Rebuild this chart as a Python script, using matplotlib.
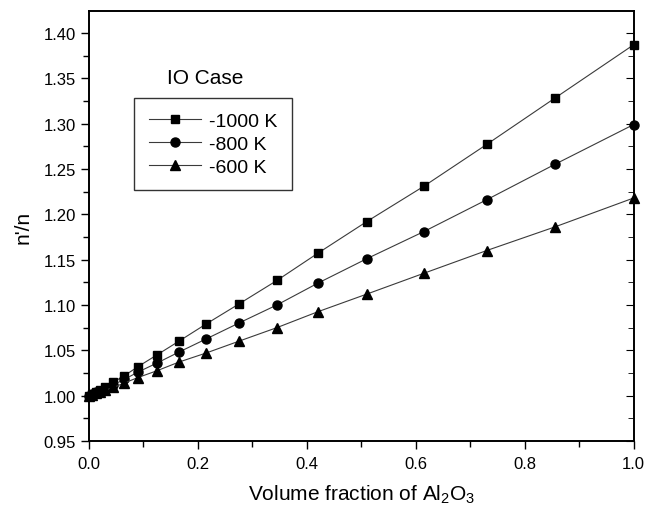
import matplotlib
matplotlib.use("Agg")
import matplotlib.pyplot as plt
from matplotlib.ticker import MultipleLocator, FormatStrFormatter

plt.rcParams['font.family'] = ['Liberation Sans', 'DejaVu Sans']
plt.rcParams['mathtext.default'] = 'regular'

x = [0, 0.005, 0.012, 0.02, 0.03, 0.045, 0.065, 0.09, 0.125, 0.165, 0.215,
     0.275, 0.345, 0.42, 0.51, 0.615, 0.73, 0.855, 1.0]
y_1000 = [1.0, 1.002, 1.004, 1.006, 1.010, 1.015, 1.022, 1.032, 1.045, 1.060,
          1.079, 1.101, 1.127, 1.157, 1.192, 1.231, 1.277, 1.328, 1.387]
y_800 = [1.0, 1.0015, 1.0035, 1.0055, 1.008, 1.012, 1.018, 1.026, 1.036, 1.048,
         1.0625, 1.080, 1.100, 1.124, 1.151, 1.181, 1.216, 1.255, 1.299]
y_600 = [1.0, 1.001, 1.0025, 1.004, 1.006, 1.009, 1.014, 1.020, 1.0275, 1.037,
         1.047, 1.060, 1.075, 1.0925, 1.112, 1.135, 1.160, 1.186, 1.218]
labels = ['-1000 K', '-800 K', '-600 K']
markers = ['s', 'o', '^']
msizes = [6, 6.5, 7.5]

fig = plt.figure(figsize=(6.48, 5.06), dpi=100)
ax = fig.add_axes([0.1373, 0.1265, 0.8407, 0.8495])

for ys, lab, m, ms in zip([y_1000, y_800, y_600], labels, markers, msizes):
    ax.plot(x, ys, color='#3a3a3a', lw=0.8, marker=m, markersize=ms,
            markerfacecolor='black', markeredgecolor='black', label=lab, clip_on=False)

ax.set_xlim(0, 1.0)
ax.set_ylim(0.95, 1.424)
ax.xaxis.set_major_locator(MultipleLocator(0.2))
ax.xaxis.set_minor_locator(MultipleLocator(0.1))
ax.yaxis.set_major_locator(MultipleLocator(0.05))
ax.yaxis.set_minor_locator(MultipleLocator(0.025))
ax.xaxis.set_major_formatter(FormatStrFormatter('%.1f'))
ax.yaxis.set_major_formatter(FormatStrFormatter('%.2f'))

ax.tick_params(axis='both', which='both', direction='out', labelsize=12, width=1)
ax.tick_params(axis='both', which='major', length=6)
ax.tick_params(axis='both', which='minor', length=4)
ax.tick_params(axis='x', pad=5)

ax2 = ax.twinx()
ax2.set_ylim(ax.get_ylim())
ax2.yaxis.set_major_locator(MultipleLocator(0.05))
ax2.yaxis.set_minor_locator(MultipleLocator(0.025))
ax2.tick_params(axis='y', which='both', direction='in', labelright=False)
ax2.tick_params(axis='y', which='major', length=6)
ax2.tick_params(axis='y', which='minor', length=4)

for a in (ax, ax2):
    for s in a.spines.values():
        s.set_linewidth(1.2)

ax.set_xlabel('Volume fraction of Al$_2$O$_3$', fontsize=15, labelpad=8)
ax.set_ylabel("n'/n", fontsize=15, labelpad=8)

ax.text(0.143, 0.846, 'IO Case', transform=ax.transAxes, fontsize=15,
        ha='left', va='center')
leg = ax.legend(loc='upper left', bbox_to_anchor=(0.083, 0.798), fontsize=14,
                frameon=True, fancybox=False, handlelength=2.7,
                borderpad=0.75, labelspacing=0.27, handletextpad=0.4, borderaxespad=0)
leg.get_frame().set_edgecolor('black')
leg.get_frame().set_linewidth(1.0)

fig.savefig('out.png', dpi=100)
